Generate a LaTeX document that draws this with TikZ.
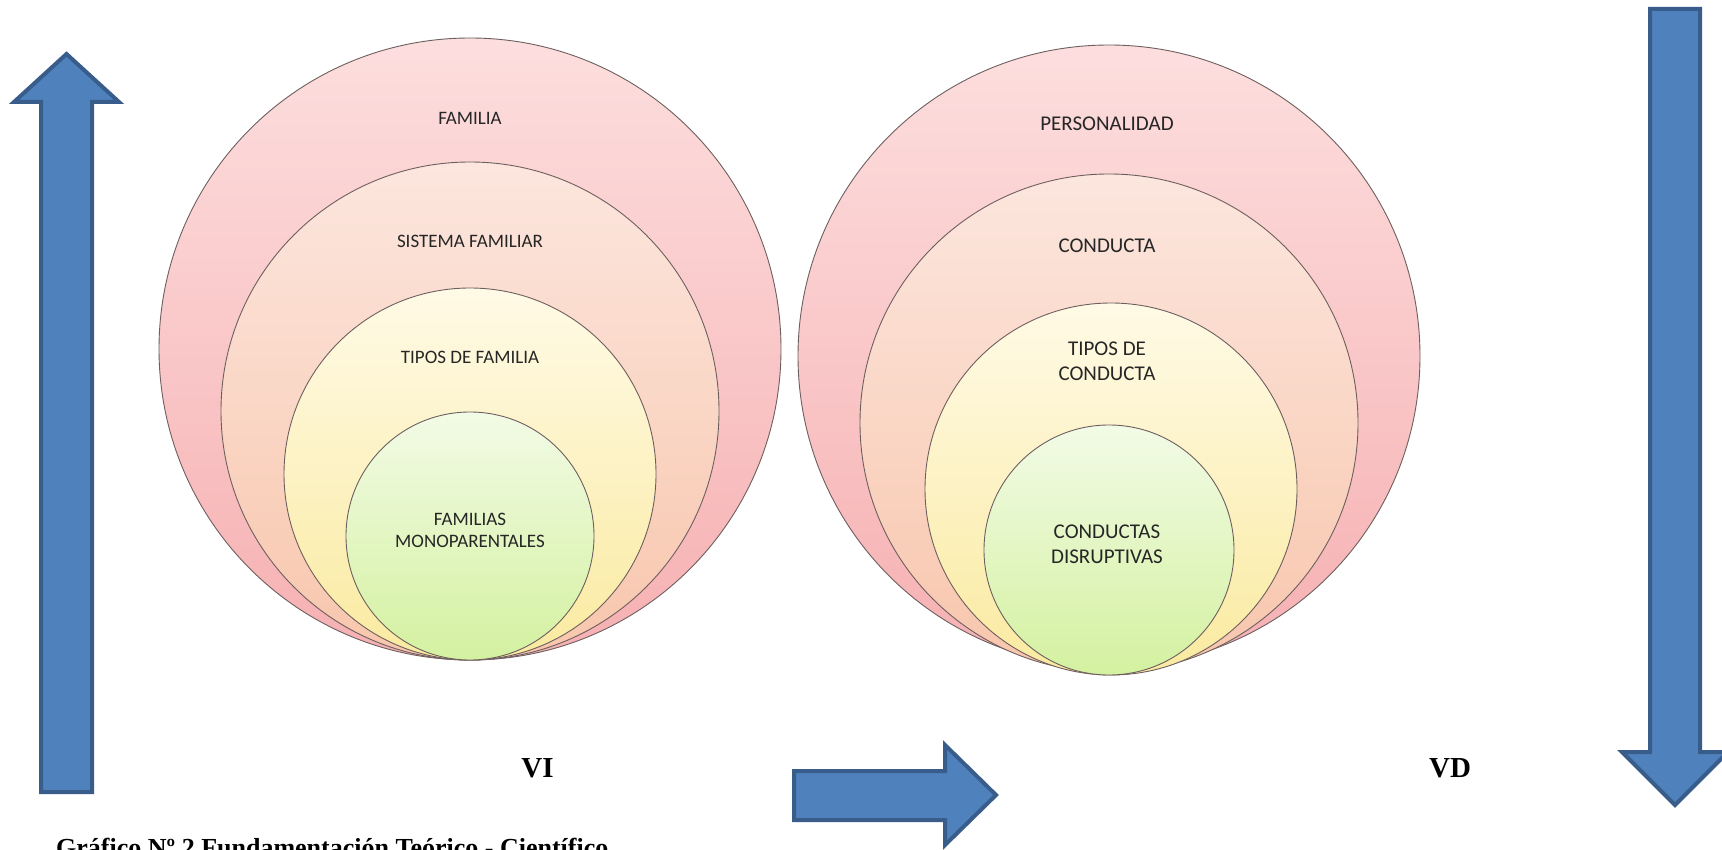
\documentclass[tikz,border=0pt]{standalone}
\usepackage{fontspec}
\setmainfont{Liberation Serif}
\newfontfamily\lblfont{Carlito}
\definecolor{arrowfill}{RGB}{79,129,189}
\definecolor{arrowline}{RGB}{56,93,138}
\definecolor{ringedge}{RGB}{110,95,95}
\definecolor{pinkT}{RGB}{253,222,222}
\definecolor{pinkB}{RGB}{246,176,178}
\definecolor{peachT}{RGB}{252,230,222}
\definecolor{peachB}{RGB}{248,198,172}
\definecolor{yelT}{RGB}{255,250,230}
\definecolor{yelB}{RGB}{250,234,160}
\definecolor{grnT}{RGB}{242,251,230}
\definecolor{grnB}{RGB}{212,241,160}
\definecolor{lbl}{RGB}{38,38,38}
\begin{document}
\begin{tikzpicture}[x=1pt,y=-1pt,
  blockarrow/.style={fill=arrowfill,draw=arrowline,line width=4pt,line join=miter},
  ring/.style={circle,inner sep=0pt,draw=ringedge,line width=0.9pt},
  r1/.style={ring,top color=pinkT,bottom color=pinkB},
  r2/.style={ring,top color=peachT,bottom color=peachB},
  r3/.style={ring,top color=yelT,bottom color=yelB},
  r4/.style={ring,top color=grnT,bottom color=grnB},
  lblL/.style={inner sep=0pt,align=center,text=lbl,font=\lblfont\fontsize{19}{22}\selectfont},
  lblR/.style={inner sep=0pt,align=center,text=lbl,font=\lblfont\fontsize{21}{25}\selectfont},
  vlabel/.style={inner sep=0pt,anchor=base,font=\bfseries\fontsize{29}{34}\selectfont},
  caption/.style={inner sep=0pt,anchor=base west,font=\bfseries\fontsize{26}{30}\selectfont}]
\useasboundingbox (0,0) rectangle (1722,850);
\fill[white] (0,0) rectangle (1722,850);

% left arrow (up)
\draw[blockarrow] (41,792) -- (41,102) -- (14,102) -- (66.5,54) -- (119,102) -- (92,102) -- (92,792) -- cycle;
% right arrow (down)
\draw[blockarrow] (1650,9) -- (1700,9) -- (1700,752) -- (1728,752) -- (1675,805) -- (1622,752) -- (1650,752) -- cycle;
% middle arrow (right)
\draw[blockarrow] (794,771) -- (945,771) -- (945,745) -- (996,795) -- (945,845) -- (945,820) -- (794,820) -- cycle;

% left set of circles
\node[r1,minimum size=622] (L1) at (470,349) {};
\node[r2,minimum size=498] (L2) at (470,411) {};
\node[r3,minimum size=372] (L3) at (470,474) {};
\node[r4,minimum size=248] (L4) at (470,536) {};
\node[lblL] (tL1) at (470,118) {FAMILIA};
\node[lblL] (tL2) at (470,241) {SISTEMA FAMILIAR};
\node[lblL] (tL3) at (470,357) {TIPOS DE FAMILIA};
\node[lblL] (tL4) at (470,530) {FAMILIAS\\MONOPARENTALES};

% right set of circles
\node[r1,minimum size=622] (R1) at (1109,356) {};
\node[r2,minimum size=498] (R2) at (1109,423) {};
\node[r3,minimum size=372] (R3) at (1111,489) {};
\node[r4,minimum size=250] (R4) at (1109,550) {};
\node[lblR] (tR1) at (1107,124) {PERSONALIDAD};
\node[lblR] (tR2) at (1107,246) {CONDUCTA};
\node[lblR] (tR3) at (1107,361) {TIPOS DE\\CONDUCTA};
\node[lblR] (tR4) at (1107,544) {CONDUCTAS\\DISRUPTIVAS};

% labels
\node[vlabel] (vi) at (537.5,777) {VI};
\node[vlabel] (vd) at (1450,777) {VD};
\node[caption] (cap) at (56,856) {Gráfico Nº 2 Fundamentación Teórico - Científico};
\end{tikzpicture}
\end{document}
